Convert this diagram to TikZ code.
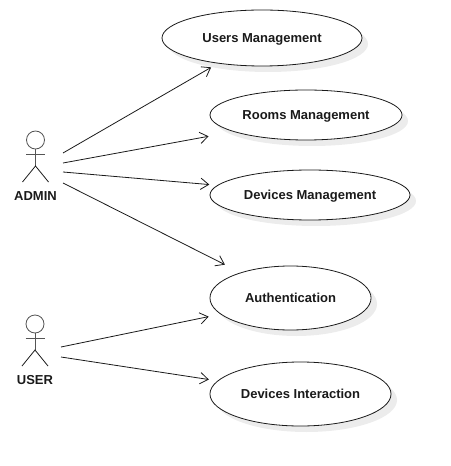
\documentclass[tikz,border=0pt]{standalone}
\usepackage{fontspec}
\setmainfont{Liberation Sans}
\usetikzlibrary{arrows.meta, shapes.geometric, shadows}
\definecolor{linegray}{HTML}{1a1a1a}
\definecolor{headgray}{HTML}{555555}
\tikzset{
  usecase/.style={ellipse, draw=linegray, line width=0.6pt, fill=white, inner sep=0pt,
    font=\fontsize{9.75pt}{11pt}\selectfont\bfseries, text=linegray, text height=7pt, text depth=0pt,
    drop shadow={shadow xshift=4.5pt, shadow yshift=-4.5pt, fill=black!12, opacity=0.6}},
  actorhead/.style={circle, draw=headgray, line width=0.6pt, fill=white, minimum size=13.5pt, inner sep=0pt},
  actorname/.style={font=\fontsize{9.75pt}{11pt}\selectfont\bfseries, text=linegray, inner sep=0pt},
  assoc/.style={draw=linegray, line width=0.6pt, -{Straight Barb[length=6pt,width=8.5pt]}}
}
\begin{document}
\begin{tikzpicture}[x=0.75pt, y=-0.75pt]
        \useasboundingbox (0,0) rectangle (450,466);
        % use cases
        \node[usecase, minimum width=150pt, minimum height=42pt] (users) at (262,38) {Users Management};
        \node[usecase, minimum width=144pt, minimum height=37.5pt] (rooms) at (306,115) {Rooms Management};
        \node[usecase, minimum width=150pt, minimum height=37.5pt] (devices) at (310,195) {Devices Management};
        \node[usecase, minimum width=120.8pt, minimum height=48pt] (auth) at (290.5,298) {Authentication};
        \node[usecase, minimum width=135.8pt, minimum height=48pt] (interact) at (300.5,394) {Devices Interaction};
        % actors
        \foreach \who/\cx/\cy/\txt in {admin/35.5/140/ADMIN, user/35/324/USER} {
          \node[actorhead] (\who head) at (\cx,\cy) {};
          \coordinate (\who hip) at (\cx,\cy+26);
          \draw[draw=headgray, line width=0.6pt] (\who head.south) -- (\who hip);
          \draw[draw=headgray, line width=0.6pt] (\cx-9.5,\cy+14.5) -- (\cx+9.5,\cy+14.5);
          \draw[draw=linegray, line width=0.6pt] (\cx-13,\cy+42) -- (\who hip) -- (\cx+13,\cy+42);
          \node[actorname] (\who name) at (\cx,\cy+56) {\txt};
        }
        % free ends beside the actors
        \coordinate (adminA) at (63,153);
        \coordinate (adminB) at (63,163);
        \coordinate (adminC) at (63,172);
        \coordinate (adminD) at (63,183);
        \coordinate (userA) at (61,347);
        \coordinate (userB) at (61,357);
        % associations
        \foreach \src/\dst/\ang/\gap in {
          adminA/users/210.2/5.8, adminB/rooms/193/19,
          adminC/devices/174.3/6, adminD/auth/153.3/13.1,
          userA/auth/193.5/9, userB/interact/171.3/6.5}
          \draw[assoc, shorten >=\gap pt] (\src) -- (\dst.\ang);
      \end{tikzpicture}
\end{document}
